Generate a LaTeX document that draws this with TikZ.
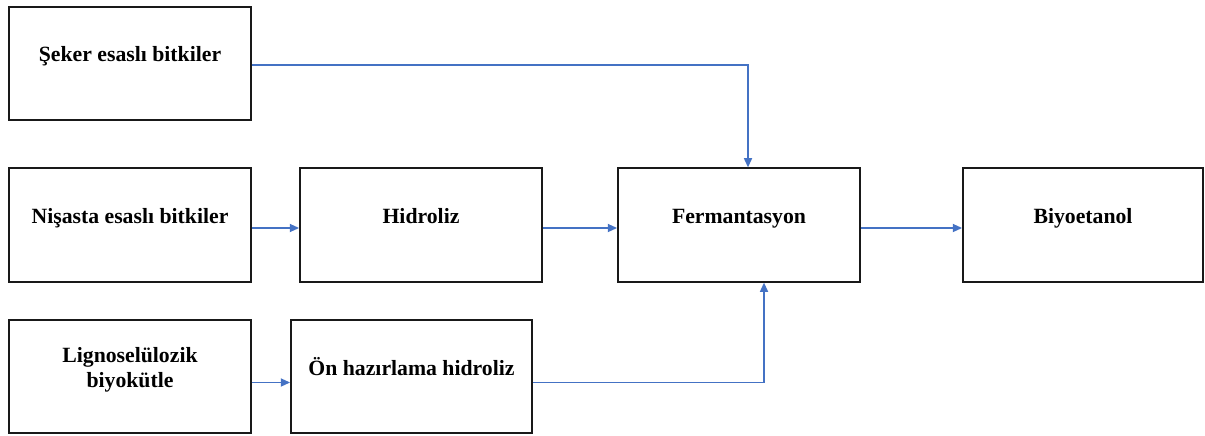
\documentclass[tikz,border=0pt]{standalone}
\usepackage{fontspec}
\setmainfont{Liberation Serif}
\usetikzlibrary{arrows.meta}
\definecolor{linkblue}{HTML}{4472C4}
\newcommand{\boxtxt}[2]{\raisebox{#1}[0pt][0pt]{\begin{tabular}[b]{@{}c@{}}#2\end{tabular}}}
\begin{document}
\begin{tikzpicture}[x=0.75pt,y=-0.75pt,
  procbox/.style={draw=black!90,line width=1.35pt,minimum width=181.5pt,minimum height=85pt,
    inner sep=0pt,font=\bfseries\fontsize{16.3}{19}\selectfont},
  flow/.style={draw=linkblue,line width=1.3pt,-{Triangle[length=7pt,width=6pt]}}]
\useasboundingbox (0,0) rectangle (1205,435);
\node[procbox] (sek) at (130,63.5) {\boxtxt{1.2pt}{Şeker esaslı bitkiler}};
\node[procbox] (nis) at (130,225) {\boxtxt{1.2pt}{Nişasta esaslı bitkiler}};
\node[procbox] (hid) at (421,225) {\boxtxt{1.2pt}{Hidroliz}};
\node[procbox] (fer) at (739,225) {\boxtxt{1.2pt}{Fermantasyon}};
\node[procbox,minimum width=180pt] (biy) at (1083,225) {\boxtxt{1.2pt}{Biyoetanol}};
\node[procbox] (lig) at (130,376.5) {\boxtxt{-8.25pt}{Lignoselülozik\\biyokütle}};
\node[procbox,minimum width=180.75pt] (onh) at (411.5,376.5) {\boxtxt{1pt}{Ön hazırlama hidroliz}};
\draw[flow] ([yshift=-1.1pt]sek.east) -| ([xshift=6.75pt]fer.north);
\draw[flow] ([yshift=-2.25pt]nis.east) -- ([yshift=-2.25pt]hid.west);
\draw[flow] ([yshift=-2.25pt]hid.east) -- ([yshift=-2.25pt]fer.west);
\draw[flow] ([yshift=-2.25pt]fer.east) -- ([yshift=-2.25pt]biy.west);
\draw[flow] ([yshift=-4.5pt]lig.east) -- ([yshift=-4.5pt]onh.west);
\draw[flow] ([yshift=-4.5pt]onh.east) -| ([xshift=18.75pt]fer.south);
\end{tikzpicture}
\end{document}
